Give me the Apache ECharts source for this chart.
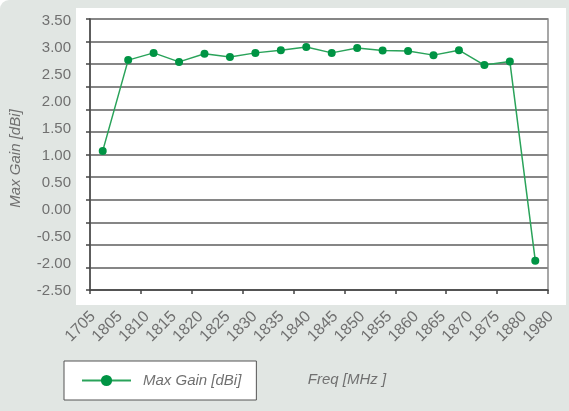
<!DOCTYPE html>
<html>
<head>
<meta charset="utf-8">
<script src="https://cdn.jsdelivr.net/npm/echarts@6/dist/echarts.min.js"></script>
<style>
  html, body { margin: 0; padding: 0; background: #ffffff; }
  #chart { width: 569px; height: 411px; }
</style>
</head>
<body>
<div id="chart"></div>
<script>
// frequencies as printed on the axis
var freqLabels = ['1705', '1805', '1810', '1815', '1820', '1825', '1830', '1835', '1840',
  '1845', '1850', '1855', '1860', '1865', '1870', '1875', '1880', '1980'];
// max gain, dBi (read against the gridlines)
var maxGain = [0.58, 2.59, 2.75, 2.55, 2.73, 2.66, 2.75, 2.81, 2.88,
  2.75, 2.86, 2.80, 2.79, 2.70, 2.81, 2.48, 2.56, -1.85];
// y tick labels exactly as printed, bottom to top
var yTickLabels = ['-2.50', '-2.00', '-0.50', '0.00', '0.50', '1.00', '1.50',
  '2.00', '2.50', '3.00', '3.50'];

var grey = '#e1e6e3';
var textColor = '#707070';
var font = 'Liberation Sans';

var myChart = echarts.init(document.getElementById('chart'));
var option = {
  backgroundColor: '#ffffff',
  animation: false,
  graphic: [
    { type: 'rect', z: -10, shape: { x: 0, y: 0, width: 569, height: 411, r: [9, 0, 0, 0] }, style: { fill: grey } },
    { type: 'rect', z: -9, shape: { x: 76, y: 8, width: 490, height: 297 }, style: { fill: '#ffffff' } }
  ],
  legend: {
    left: 64,
    top: 361,
    orient: 'horizontal',
    backgroundColor: '#ffffff',
    borderColor: '#555555',
    borderWidth: 1,
    padding: [12, 15, 12, 17],
    itemWidth: 49,
    itemHeight: 14,
    textStyle: { color: textColor, fontFamily: font, fontSize: 15, fontStyle: 'italic', padding: [0, 0, 0, 7] },
    data: ['Max Gain [dBi]']
  },
  grid: [
    // plot area
    { left: 90, right: 21, top: 19, bottom: 121, show: true, borderColor: '#8a8a8a', borderWidth: 1.5, backgroundColor: 'transparent' },
    // y labels as printed
    { left: 90, right: 21, top: 21, bottom: 120 },
    // x labels as printed
    { left: 93, right: 18, top: 19, bottom: 121 }
  ],
  xAxis: [
    {
      type: 'category',
      gridIndex: 0,
      data: freqLabels,
      boundaryGap: true,
      name: 'Freq [MHz ]',
      nameLocation: 'middle',
      nameGap: 82,
      nameTextStyle: { color: textColor, fontFamily: font, fontSize: 15, fontStyle: 'italic', padding: [0, 0, 0, 56] },
      axisLine: { onZero: false, lineStyle: { color: '#444444', width: 1.5 } },
      axisTick: { show: true, length: 4, lineStyle: { color: '#444444', width: 1.5 } },
      axisLabel: { show: false },
      splitLine: { show: false }
    },
    { type: 'value', gridIndex: 1, show: false },
    {
      type: 'category',
      gridIndex: 2,
      data: freqLabels,
      boundaryGap: false,
      axisLine: { show: false },
      axisTick: { show: false },
      splitLine: { show: false },
      axisLabel: { interval: 0, rotate: 45, margin: 24, color: textColor, fontFamily: font, fontSize: 16 }
    }
  ],
  yAxis: [
    {
      type: 'value',
      gridIndex: 0,
      min: -2.5,
      max: 3.5,
      interval: 0.5,
      name: 'Max Gain [dBi]',
      nameLocation: 'middle',
      nameRotate: 90,
      nameGap: 67,
      nameTextStyle: { color: textColor, fontFamily: font, fontSize: 15, fontStyle: 'italic', padding: [0, 8, 0, 0] },
      axisLine: { show: true, lineStyle: { color: '#444444', width: 1.5 } },
      axisTick: { show: true, length: 4, lineStyle: { color: '#444444', width: 1.5 } },
      axisLabel: { show: false },
      splitLine: { show: true, lineStyle: { color: '#868686', width: 1.8 } }
    },
    {
      type: 'category',
      gridIndex: 1,
      data: yTickLabels,
      boundaryGap: false,
      axisLine: { show: false },
      axisTick: { show: false },
      splitLine: { show: false },
      axisLabel: { interval: 0, margin: 19, color: textColor, fontFamily: font, fontSize: 15 }
    },
    { type: 'value', gridIndex: 2, show: false }
  ],
  series: [
    {
      name: 'Max Gain [dBi]',
      type: 'line',
      xAxisIndex: 0,
      yAxisIndex: 0,
      data: maxGain,
      symbol: 'circle',
      symbolSize: 8,
      lineStyle: { color: '#2aa35a', width: 1.5 },
      itemStyle: { color: '#009444' }
    }
  ]
};
myChart.setOption(option);
</script>
</body>
</html>
